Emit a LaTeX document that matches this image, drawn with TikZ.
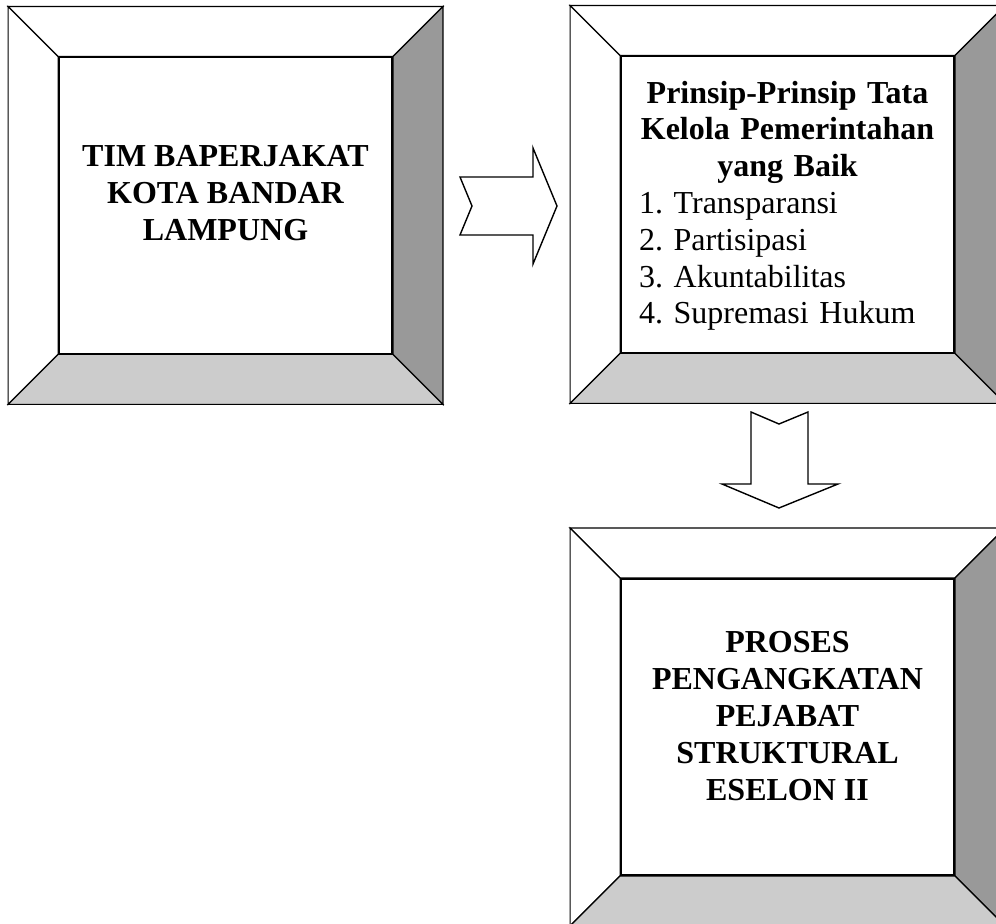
\documentclass[tikz,border=0pt]{standalone}
\usepackage{fontspec}
\setmainfont{Liberation Serif}
\usetikzlibrary{calc,positioning,backgrounds}
\frenchspacing

\begin{document}
\begin{tikzpicture}[x=0.5pt,y=-0.5pt]

  \tikzstyle{frame} = [draw, fill=white, rectangle, minimum width=166.5pt, minimum height=148pt, line width=0.9pt, inner sep=0pt]
  \tikzstyle{bevel} = [draw, line width=0.6pt, line join=miter]
  \tikzstyle{caption} = [font=\fontsize{16}{18.5}\selectfont\bfseries, align=center, anchor=north, inner sep=0pt]
  \tikzstyle{blockarrow} = [draw, fill=white, line width=0.7pt, line join=miter]

  \useasboundingbox (0,0) rectangle (996,924);
  \clip (0,0) rectangle (996,924);

  \node[frame] (tim) at (225.5,205.5) {};
  \node[frame] (prinsip) at (787.5,204.5) {};
  \node[frame] (proses) at (787.5,727) {};

  % bevelled borders round the three boxes
  \begin{scope}[on background layer]
    \foreach \n in {tim,prinsip,proses} {
      \draw[bevel, fill=white] (\n.north west) -- ++(-25pt,25pt) -- ($(\n.north east)+(25pt,25pt)$) -- (\n.north east) -- cycle;
      \draw[bevel, fill=white] (\n.north west) -- ++(-25pt,25pt) -- ($(\n.south west)+(-25pt,-25pt)$) -- (\n.south west) -- cycle;
      \draw[bevel, fill=black!40] (\n.north east) -- ++(25pt,25pt) -- ($(\n.south east)+(25pt,-25pt)$) -- (\n.south east) -- cycle;
      \draw[bevel, fill=black!20] (\n.south west) -- ++(-25pt,-25pt) -- ($(\n.south east)+(25pt,-25pt)$) -- (\n.south east) -- cycle;
    }
  \end{scope}

  \node[caption] (tim-text) at ($(tim.north)+(0,-44pt)$) {TIM BAPERJAKAT\\KOTA BANDAR\\LAMPUNG};

  \node[caption, font=\fontsize{16}{18.4}\selectfont, align=left, text width=148.5pt] (prinsip-text) at ($(prinsip.north)+(0,-12.5pt)$)
    {{\centering\bfseries Prinsip-Prinsip Tata\\Kelola Pemerintahan\\yang Baik\par}
     1. Transparansi\\2. Partisipasi\\3. Akuntabilitas\\4. Supremasi Hukum};

  \node[caption] (proses-text) at ($(proses.north)+(0,-26.5pt)$) {PROSES\\PENGANGKATAN\\PEJABAT\\STRUKTURAL\\ESELON II};

  % block arrows between the boxes
  \draw[blockarrow] (460,177) -- (533,177) -- (533,148) -- (557,206) -- (533,264) -- (533,235) -- (460,235) -- (472,206) -- cycle;
  \draw[blockarrow] (751,412) -- (779,424) -- (808,412) -- (808,484) -- (838,484) -- (779,508) -- (722,484) -- (751,484) -- cycle;

\end{tikzpicture}
\end{document}
